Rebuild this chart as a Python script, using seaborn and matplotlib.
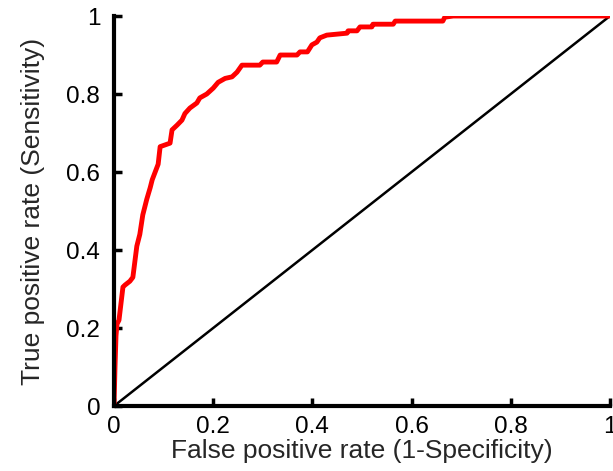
import matplotlib
matplotlib.use('Agg')
import matplotlib.pyplot as plt
import seaborn as sns
import pandas as pd

# ROC curve points
fpr = [0, 0.002, 0.004, 0.006, 0.010, 0.018, 0.022, 0.032, 0.038, 0.046,
       0.052, 0.058, 0.066, 0.073, 0.077, 0.083, 0.089, 0.093, 0.113, 0.117,
       0.127, 0.137, 0.143, 0.153, 0.167, 0.173, 0.187, 0.200, 0.210, 0.224,
       0.238, 0.248, 0.258, 0.294, 0.300, 0.328, 0.335, 0.369, 0.375, 0.390,
       0.399, 0.409, 0.415, 0.429, 0.470, 0.472, 0.490, 0.496, 0.520, 0.522,
       0.563, 0.567, 0.663, 0.667, 0.684, 1.0]
tpr = [0, 0.10, 0.18, 0.21, 0.22, 0.305, 0.31, 0.32, 0.33, 0.41,
       0.44, 0.49, 0.53, 0.56, 0.58, 0.60, 0.62, 0.665, 0.674, 0.708,
       0.72, 0.733, 0.75, 0.764, 0.777, 0.79, 0.80, 0.815, 0.83, 0.84,
       0.844, 0.856, 0.874, 0.874, 0.882, 0.882, 0.90, 0.90, 0.908, 0.908,
       0.926, 0.933, 0.944, 0.951, 0.956, 0.962, 0.962, 0.972, 0.972, 0.979,
       0.979, 0.987, 0.987, 0.997, 1.0, 1.0]
chance = [0, 1]
ticks = [0, 0.2, 0.4, 0.6, 0.8, 1]
tick_labels = ['0', '0.2', '0.4', '0.6', '0.8', '1']

sns.set_style('white')
plt.rcParams['font.family'] = ['Liberation Sans', 'DejaVu Sans']

roc = pd.DataFrame({'fpr': fpr, 'tpr': tpr})

fig = plt.figure(figsize=(6.13, 4.71), dpi=100)
ax = fig.add_axes([0.186, 0.138, 0.809, 0.828])

sns.lineplot(x=chance, y=chance, ax=ax, color='black', linewidth=1.8)
sns.lineplot(data=roc, x='fpr', y='tpr', ax=ax, color='red', linewidth=3.5,
             estimator=None, sort=False)

ax.set_xlim(0, 1)
ax.set_ylim(0, 1)
ax.set_xticks(ticks)
ax.set_xticklabels(tick_labels)
ax.set_yticks(ticks)
ax.set_yticklabels(tick_labels)

for side in ['top', 'right']:
    ax.spines[side].set_visible(False)
for side in ['left', 'bottom']:
    ax.spines[side].set_linewidth(3)
    ax.spines[side].set_color('black')

ax.tick_params(direction='in', length=6, width=2.5, labelsize=17.5,
               colors='black', bottom=True, left=True)
ax.tick_params(axis='y', pad=10)
ax.tick_params(axis='x', pad=7)
ax.set_xlabel('False positive rate (1-Specificity)', fontsize=19, labelpad=1)
ax.set_ylabel('True positive rate (Sensitivity)', fontsize=19, labelpad=15)

fig.savefig('out.png', dpi=100)
